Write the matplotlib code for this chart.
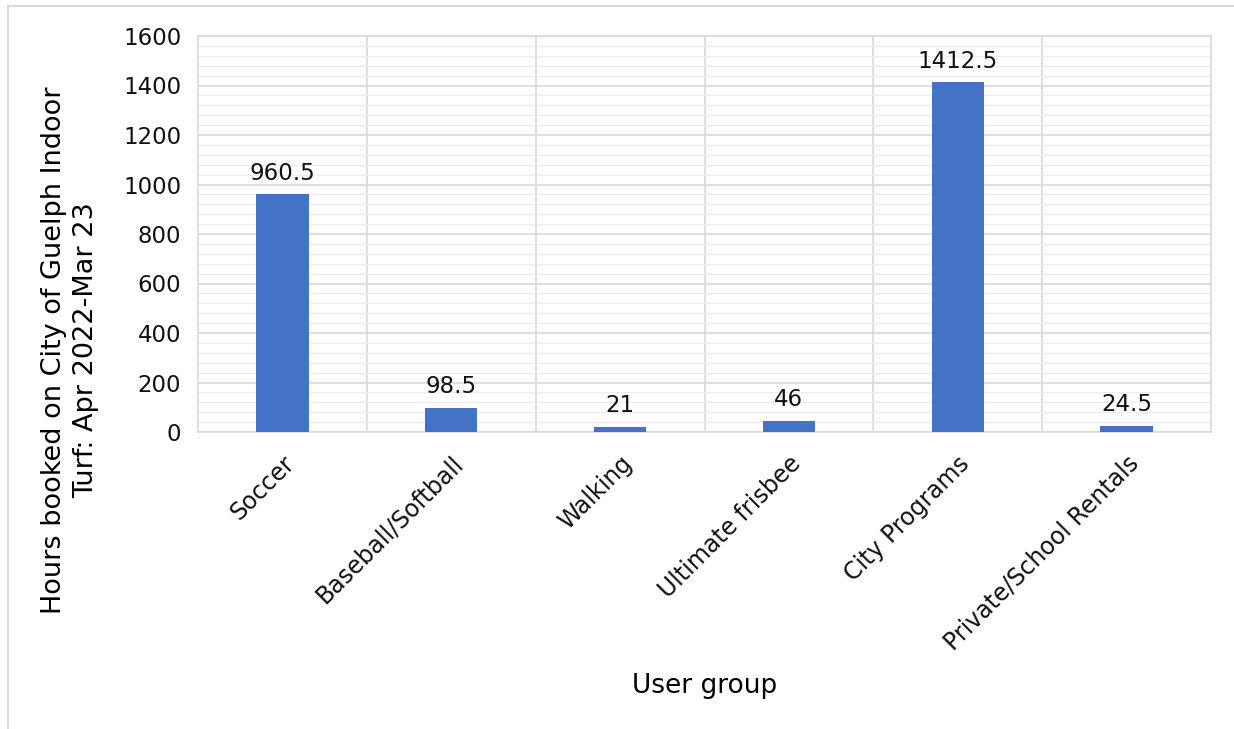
import matplotlib
matplotlib.use("Agg")
import matplotlib.pyplot as plt
from matplotlib.ticker import MultipleLocator
from matplotlib.patches import Rectangle

categories = ["Soccer", "Baseball/Softball", "Walking", "Ultimate frisbee",
              "City Programs", "Private/School Rentals"]
hours = [960.5, 98.5, 21, 46, 1412.5, 24.5]
labels = ["960.5", "98.5", "21", "46", "1412.5", "24.5"]

W, H = 1234, 729
fig = plt.figure(figsize=(W / 100, H / 100), dpi=100)
plt.rcParams['font.family'] = ['DejaVu Sans']

# outer chart frame (right and bottom edges lie outside the image)
fig.patches.append(Rectangle((8 / W, -0.5), 1.5, 1.5 - 6 / H, transform=fig.transFigure,
                             fill=False, edgecolor="#d9d9d9", linewidth=1.5))

left, right, top, bottom = 198, 1211, 36, 432
ax = fig.add_axes([left / W, 1 - bottom / H, (right - left) / W, (bottom - top) / H])

x = list(range(len(categories)))
ax.bar(x, hours, width=0.31, color="#4472C4", zorder=3)
for xi, v, lab in zip(x, hours, labels):
    ax.annotate(lab, (xi, v), xytext=(0, 7), textcoords="offset points",
                ha="center", va="bottom", fontsize=16.5, color="#111111")

ax.set_xlim(-0.5, len(categories) - 0.5)
ax.set_ylim(0, 1600)
ax.yaxis.set_major_locator(MultipleLocator(200))
ax.yaxis.set_minor_locator(MultipleLocator(40))
ax.grid(axis="y", which="major", color="#d9d9d9", linewidth=1.2, zorder=0)
ax.grid(axis="y", which="minor", color="#ececec", linewidth=1.0, zorder=0)
for b in [i + 0.5 for i in range(len(categories) - 1)]:
    ax.axvline(b, color="#d9d9d9", linewidth=1.2, zorder=0)

ax.set_xticks(x)
ax.set_xticklabels(categories, rotation=45, ha="right", rotation_mode="anchor", fontsize=17)
ax.tick_params(axis="both", which="both", length=0, colors="#111111")
ax.tick_params(axis="x", pad=14, labelsize=17)
ax.tick_params(axis="y", pad=12, labelsize=16.5)
for s in ax.spines.values():
    s.set_color("#d9d9d9")
    s.set_linewidth(1.2)

ax.set_xlabel("User group", fontsize=19, labelpad=13)
ax.set_ylabel("Hours booked on City of Guelph Indoor\nTurf: Apr 2022-Mar 23", fontsize=19.5,
              linespacing=1.3, va="center", ha="center")
ax.yaxis.set_label_coords((70 - left) / (right - left), (bottom - 350) / (bottom - top))

fig.savefig("out.png", dpi=100)
